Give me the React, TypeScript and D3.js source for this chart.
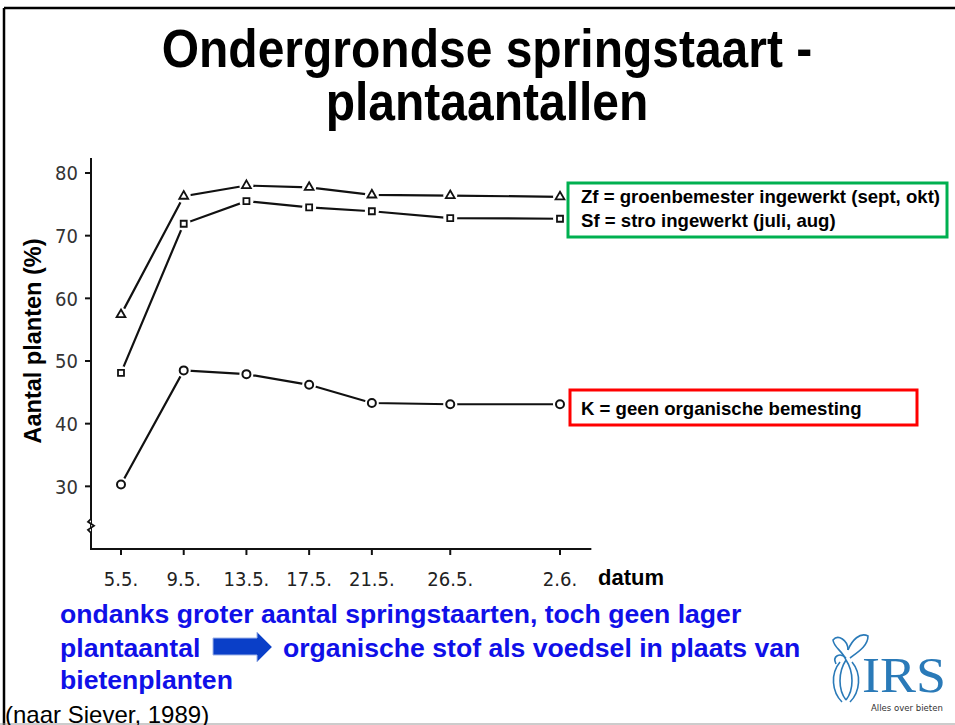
import React from 'react';
import * as d3 from 'd3';

// dates of observation (1989)
const dates = ['1989-05-05', '1989-05-09', '1989-05-13', '1989-05-17', '1989-05-21', '1989-05-26', '1989-06-02'];
const zfValues = [57.4, 76.3, 78.0, 77.7, 76.5, 76.4, 76.2];
const sfValues = [48.1, 71.9, 75.5, 74.5, 73.9, 72.8, 72.7];
const kValues = [30.3, 48.5, 47.9, 46.2, 43.3, 43.1, 43.1];
const yTicks = [30, 40, 50, 60, 70, 80];

const titleLines = ['Ondergrondse springstaart -', 'plantaantallen'];
const legendGreen = ['Zf = groenbemester ingewerkt (sept, okt)', 'Sf = stro ingewerkt (juli, aug)'];
const legendRed = 'K = geen organische bemesting';
const noteLines = ['ondanks groter aantal springstaarten, toch geen lager', 'plantaantal', 'organische stof als voedsel in plaats van', 'bietenplanten'];

const W = 955;
const H = 725;
const FONT = "'Liberation Sans', Arial, sans-serif";
const NARROW = "'Liberation Sans Narrow', 'DejaVu Sans Condensed', 'Liberation Sans', Arial, sans-serif";

const parse = d3.timeParse('%Y-%m-%d');
const fmt = d3.timeFormat('%-d.%-m.');

export default function App() {
  const dts = dates.map(d => parse(d) as Date);

  const x = d3.scaleTime()
    .domain([dts[0], dts[dts.length - 1]])
    .range([121, 560]);
  const y = d3.scaleLinear().domain([20, 80]).range([549, 173]);

  const axisX = 91;
  const axisY = y(20);
  const xEnd = x(parse('1989-06-04') as Date);

  const line = d3.line<number>()
    .x((_, i) => x(dts[i]))
    .y(d => y(d));

  const tri = d3.symbol(d3.symbolTriangle, 34)() as string;
  const sq = d3.symbol(d3.symbolSquare, 36)() as string;

  const series = [
    { key: 'Zf', values: zfValues, marker: 'tri' },
    { key: 'Sf', values: sfValues, marker: 'sq' },
    { key: 'K', values: kValues, marker: 'circle' },
  ];

  const breakY = y(23.7);
  const sy = 1.1; // vertical stretch of the title

  return (
    <svg width={W} height={H} style={{ position: 'absolute', left: 0, top: 0, background: '#fff' }}>
      {/* slide frame */}
      <line x1={4} y1={8} x2={W} y2={8} stroke="#000" strokeWidth={2.5} />
      <line x1={4} y1={8} x2={4} y2={H} stroke="#000" strokeWidth={2.5} />
      <line x1={0} y1={724} x2={W} y2={724} stroke="#999" strokeWidth={1} />

      {/* title, two lines in one text */}
      <text transform={`scale(1,${sy})`} textAnchor="middle"
        fontFamily={FONT} fontWeight="bold" fontSize={48} fill="#000">
        {titleLines.map((t, i) => (
          <tspan key={t} x={487} y={(67 + i * 53) / sy}>{t}</tspan>
        ))}
      </text>

      {/* axes */}
      <line x1={axisX} y1={y(82.4)} x2={axisX} y2={axisY} stroke="#111" strokeWidth={2} />
      <line x1={axisX - 1} y1={axisY} x2={xEnd} y2={axisY} stroke="#111" strokeWidth={2} />
      <path d={`M${axisX},${breakY - 7} l-3,3 l6,4 l-6,4 l3,3`} fill="#fff" stroke="#111" strokeWidth={1.8} />

      {yTicks.map(t => (
        <g key={t}>
          <line x1={axisX - 6} x2={axisX} y1={y(t)} y2={y(t)} stroke="#111" strokeWidth={2} />
          <text x={78} y={y(t)} dy="0.36em" textAnchor="end" fontFamily={NARROW}
            fontSize={20} fill="#333">{t}</text>
        </g>
      ))}

      {dts.map(d => (
        <g key={+d}>
          <line x1={x(d)} x2={x(d)} y1={axisY} y2={axisY + 6} stroke="#111" strokeWidth={2} />
          <text x={x(d)} y={586} textAnchor="middle" fontFamily={NARROW}
            fontSize={20} fill="#222">{fmt(d)}</text>
        </g>
      ))}

      <text x={598} y={585} fontFamily={FONT} fontWeight="bold" fontSize={22} fill="#000">datum</text>

      <text transform={`translate(41,341) rotate(-90)`} textAnchor="middle" fontFamily={FONT}
        fontWeight="bold" fontSize={23.5} fill="#000">Aantal planten (%)</text>

      {/* series lines */}
      {series.map(s => (
        <path key={s.key} d={line(s.values) as string} fill="none" stroke="#111" strokeWidth={2.2} />
      ))}

      {/* markers with white halo */}
      {series.map(s => s.values.map((v, i) => {
        const cx = x(dts[i]);
        const cy = y(v);
        return (
          <g key={s.key + i} transform={`translate(${cx},${cy})`}>
            <circle r={7} fill="#fff" />
            {s.marker === 'circle' && <circle r={4} fill="#fff" stroke="#111" strokeWidth={2} />}
            {s.marker === 'tri' && <path d={tri} fill="#fff" stroke="#111" strokeWidth={1.8} />}
            {s.marker === 'sq' && <path d={sq} fill="#fff" stroke="#111" strokeWidth={1.8} />}
          </g>
        );
      }))}

      {/* legend boxes */}
      <rect x={568} y={183} width={379} height={54} fill="#fff" stroke="#00b050" strokeWidth={3} />
      {legendGreen.map((t, i) => (
        <text key={t} x={581} y={203 + i * 24} fontFamily={FONT} fontWeight="bold"
          fontSize={18.6} fill="#000">{t}</text>
      ))}
      <rect x={570} y={390} width={347} height={35} fill="#fff" stroke="#ff0000" strokeWidth={3} />
      <text x={581} y={415} fontFamily={FONT} fontWeight="bold" fontSize={18.6} fill="#000">{legendRed}</text>

      {/* conclusion text */}
      <g fontFamily={FONT} fontWeight="bold" fontSize={26.6} fill="#1010e8">
        <text x={60} y={623}>{noteLines[0]}</text>
        <text x={60} y={657}>{noteLines[1]}</text>
        <text x={283} y={657}>{noteLines[2]}</text>
        <text x={60} y={689}>{noteLines[3]}</text>
      </g>
      <path d="M213,638 L257,638 L257,632 L272,647 L257,662 L257,655 L213,655 Z"
        fill="#0a3fc8" stroke="#9fb4e8" strokeWidth={1} />

      {/* source */}
      <text x={5} y={723} fontFamily={FONT} fontSize={24} fill="#000">(naar Siever, 1989)</text>

      {/* IRS logo */}
      <g fill="none" stroke="#2a7ab8" strokeWidth={1.6}>
        <path d="M846,660 C838,672 838,690 846,700 M846,660 C854,672 854,690 846,700" />
        <path d="M840,662 C830,674 832,692 842,702 M852,662 C862,674 860,692 850,702" />
        <path d="M846,660 C842,650 834,648 833,640 C838,634 848,640 848,650" />
        <path d="M848,650 C852,640 860,632 868,636 C868,646 858,652 850,658" />
        <path d="M846,658 C840,652 832,656 836,664" />
      </g>
      <text x={862} y={692} fontFamily="'Liberation Serif', 'Times New Roman', serif" fontSize={50}
        fill="#2a7ab8" textLength={84} lengthAdjust="spacingAndGlyphs">IRS</text>
      <text x={871} y={711} fontFamily={NARROW} fontSize={9.5} fill="#333">Alles over bieten</text>
    </svg>
  );
}
